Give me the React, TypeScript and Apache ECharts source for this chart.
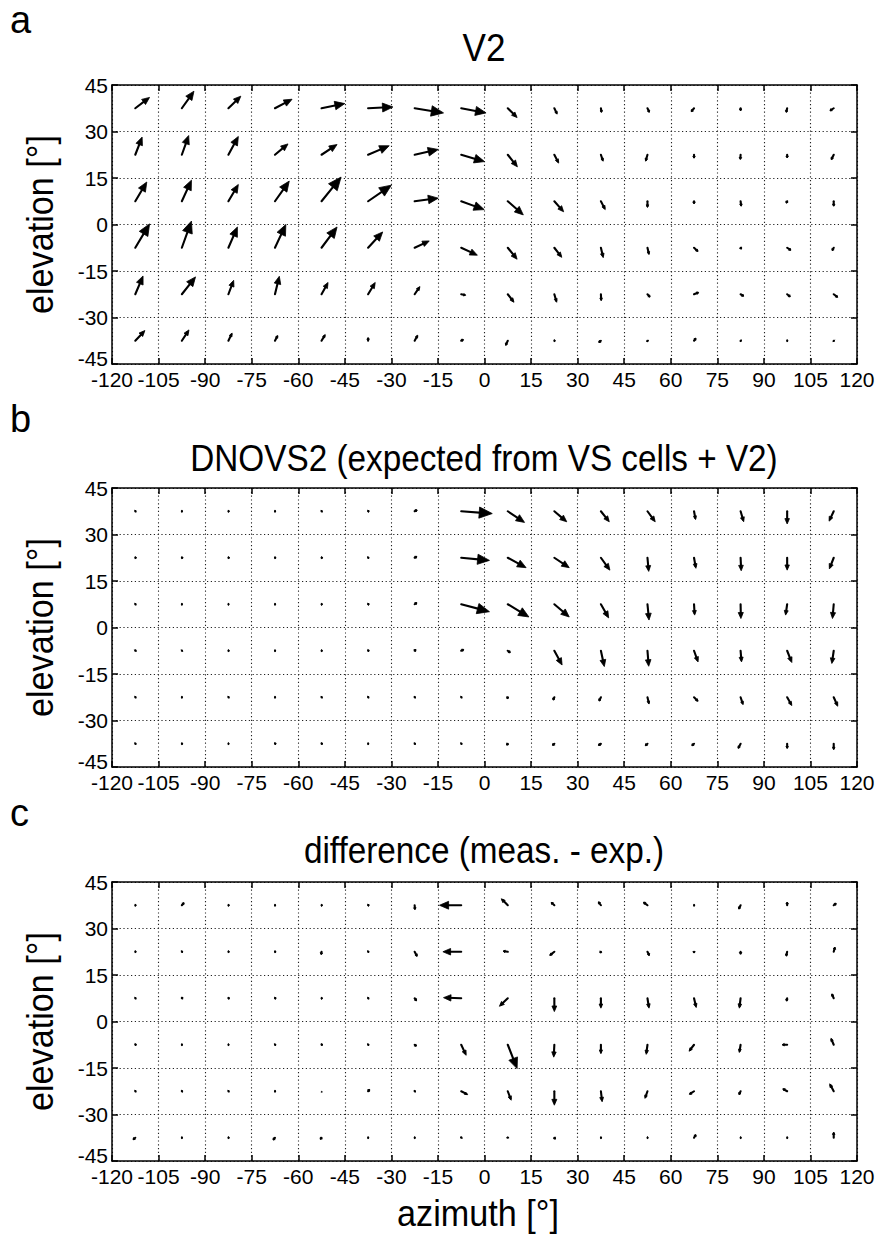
import React, { useEffect, useRef } from "react";
import * as echarts from "echarts";

const azimuths = [-112.5, -97.5, -82.5, -67.5, -52.5, -37.5, -22.5, -7.5, 7.5, 22.5, 37.5, 52.5, 67.5, 82.5, 97.5, 112.5];
const elevations = [37.5, 22.5, 7.5, -7.5, -22.5, -37.5];
const xTicks = [-120, 120, 15];
const yTicks = [-45, 45, 15];

// panel a: V2 (rows top -> bottom, columns left -> right)
const v2U = [
  [4.6, 3.9, 4.0, 5.5, 7.5, 8.0, 9.3, 8.0, 3.0, 0.9, 0.2, 0.6, -0.9, 0.0, -0.3, -1.2],
  [2.2, 2.2, 3.2, 4.2, 5.0, 6.8, 7.6, 7.5, 3.1, 1.4, 0.7, -0.6, 0.0, -0.1, 0.0, -0.8],
  [3.7, 3.1, 3.2, 4.6, 6.3, 7.5, 7.6, 7.4, 5.0, 3.0, 1.4, 0.0, 0.0, 0.2, -0.3, 0.0],
  [4.6, 3.1, 2.9, 3.5, 5.0, 4.7, 4.7, 5.2, 3.0, 2.4, 0.75, 0.5, 1.3, 0.3, 1.2, -0.5],
  [2.5, 4.4, 1.7, 1.4, 2.1, 2.3, 1.7, 1.4, 2.0, 0.75, 0.1, 0.8, 1.5, 1.0, 1.0, 1.3],
  [3.1, 2.3, 1.2, 0.9, 1.2, 0.0, 1.0, 0.7, -0.7, 0.2, -0.7, 0.1, 0.6, 0.2, 0.1, 0.1],
];
const v2V = [
  [3.5, 5.5, 3.9, 2.9, 1.5, 0.4, -1.5, -1.5, -3.0, -1.9, -1.3, -1.3, -1.1, -0.8, -1.3, -0.8],
  [5.7, 6.2, 5.9, 3.5, 3.3, 2.9, 1.7, -2.2, -3.9, -2.7, -2.1, -2.1, -1.1, -1.5, -1.0, -1.6],
  [6.2, 6.8, 5.4, 6.5, 7.8, 5.2, 1.0, -2.7, -4.4, -3.4, -2.7, -2.0, -0.8, -1.6, -0.6, -1.6],
  [7.7, 8.6, 6.7, 7.5, 6.7, 5.1, 2.2, -2.4, -3.7, -3.1, -3.2, -2.2, -1.2, -0.4, -0.8, -0.9],
  [5.9, 5.6, 4.5, 5.8, 3.8, 3.8, 2.5, -0.3, -2.6, -2.6, -2.1, -0.9, 0.6, -0.6, -0.8, -1.0],
  [3.3, 3.5, 2.5, 1.7, 2.0, 1.0, 1.8, 0.4, -1.5, 0.0, -0.5, -0.2, 0.8, -0.1, 0.0, -0.1],
];

// panel b: DNOVS2 expected
const dnoU = [
  [0.2, 0.1, 0.2, 0.1, 0.2, 0.3, 0.8, 10.0, 5.4, 4.0, 2.7, 2.5, 0.5, 1.0, 0.0, -1.5],
  [0.3, 0.3, 0.3, 0.2, 0.3, 0.2, 0.7, 9.1, 5.9, 4.8, 2.9, 0.4, 0.6, 0.2, 0.0, -1.4],
  [0.2, 0.1, 0.1, 0.1, 0.2, 0.3, 0.7, 9.1, 6.8, 4.8, 2.5, 0.5, 0.2, 0.1, -0.5, -0.4],
  [0.2, 0.1, 0.2, 0.1, 0.2, 0.3, 0.4, 0.8, 0.8, 2.5, 1.1, 0.4, 1.3, 0.3, 1.5, -0.6],
  [0.2, 0.1, 0.2, 0.1, 0.2, 0.2, 0.2, 0.2, -0.2, -0.4, -0.6, 0.5, 1.3, 0.8, 1.5, 1.3],
  [0.2, 0.2, 0.1, 0.3, 0.3, 0.1, 0.2, 0.2, -0.4, -0.6, -0.8, -0.7, -0.7, -0.8, 0.0, 0.0],
];
const dnoV = [
  [0.1, 0.0, 0.0, 0.0, 0.1, 0.1, 0.4, -0.75, -3.6, -3.4, -3.4, -3.4, -2.7, -3.4, -4.1, -3.2],
  [0.0, 0.0, 0.0, 0.0, 0.0, 0.1, 0.4, -0.85, -3.2, -3.2, -4.0, -4.4, -3.4, -4.2, -4.0, -3.6],
  [0.1, 0.0, 0.0, 0.0, 0.0, 0.1, 0.5, -2.4, -4.1, -4.1, -4.4, -5.1, -3.5, -4.6, -3.5, -4.6],
  [0.2, 0.1, 0.0, 0.0, 0.0, 0.1, 0.4, 0.4, -0.6, -4.6, -5.1, -5.0, -3.6, -3.6, -3.8, -4.1],
  [0.1, 0.0, 0.1, 0.0, 0.1, 0.1, 0.1, 0.1, -0.5, -0.9, -1.2, -2.2, -1.3, -2.4, -2.7, -2.9],
  [0.1, 0.0, 0.0, 0.1, 0.1, 0.0, 0.1, 0.1, -0.4, -0.5, -0.5, -0.6, -0.6, -1.5, -1.5, -1.9],
];

// panel c: difference (measured - expected)
const diffU = [
  [0.2, 0.7, 0.2, 0.1, 0.2, 0.3, 0.1, -7.0, -2.1, -1.0, -0.8, -1.3, 0.1, -0.6, 0.0, 0.8],
  [0.2, 0.2, 0.2, 0.2, -0.1, 0.2, 0.8, -5.9, -1.5, -1.5, -0.3, 0.6, 0.0, 0.0, -0.3, 0.4],
  [0.2, 0.3, 0.3, 0.3, 0.2, 0.2, 0.6, -5.7, -2.7, 0.0, 0.0, 0.5, 0.7, -0.4, -0.2, -0.6],
  [0.3, 0.1, 0.1, 0.2, 0.3, 0.2, 0.6, 1.6, 3.0, -0.2, 0.0, -0.4, -1.6, -0.4, -1.6, -0.9],
  [0.2, 0.2, 0.2, 0.1, 0.0, 0.5, 0.2, 2.1, 1.1, 0.0, 0.4, -0.8, -1.5, -0.5, -1.4, -1.3],
  [-0.7, 0.1, 0.2, -0.6, -0.4, 0.1, 0.1, 0.1, 0.0, 0.4, 0.1, 0.1, 0.6, 0.1, 0.1, 0.0],
];
const diffV = [
  [0.0, 0.8, 0.0, 0.0, 0.0, 0.1, -1.4, 0.0, 2.1, 0.9, 1.1, 1.0, 0.0, -1.2, 1.0, 0.6],
  [0.0, 0.1, 0.0, 0.0, -0.9, 0.1, -1.5, 0.0, 0.2, -1.2, -0.3, -1.2, -0.3, -0.8, -1.4, 1.5],
  [0.1, 0.2, 0.1, 0.1, 0.0, 0.1, -0.8, 0.2, -2.6, -4.3, -3.2, -3.2, -3.0, -3.2, -0.9, 1.4],
  [0.1, 0.0, 0.0, 0.1, 0.1, 0.1, -0.4, -3.4, -7.7, -4.0, -2.9, -3.1, -2.1, -2.5, 0.0, 2.1],
  [0.1, 0.1, 0.1, 0.0, 0.0, 0.6, 0.1, -1.1, -2.9, -4.5, -3.4, -2.3, -1.0, -1.1, 0.8, 2.4],
  [-0.6, 0.0, 0.0, -0.7, -0.5, 0.0, 0.0, 0.2, 0.2, -0.4, 0.0, 0.0, 1.0, 0.0, 0.0, 1.8],
];

const panelLetters = ["a", "b", "c"];
const panelTitles = ["V2", "DNOVS2 (expected from VS cells + V2)", "difference (meas. - exp.)"];
const xLabel = "azimuth [°]";
const yLabel = "elevation [°]";

const FONT = "'Liberation Sans', Arial, sans-serif";

function buildData(U: number[][], V: number[][]) {
  const out: number[][] = [];
  elevations.forEach((el, r) => {
    azimuths.forEach((az, c) => {
      out.push([az, el, U[r][c], V[r][c]]);
    });
  });
  return out;
}

function renderArrow(params: any, api: any) {
  const x = api.value(0);
  const y = api.value(1);
  const u = api.value(2);
  const v = api.value(3);
  const p0 = api.coord([x, y]);
  const p1 = api.coord([x + u, y + v]);
  const dx = p1[0] - p0[0];
  const dy = p1[1] - p0[1];
  const L = Math.sqrt(dx * dx + dy * dy);
  if (L < 0.3) {
    return { type: "circle", shape: { cx: p0[0], cy: p0[1], r: 0.9 }, style: { fill: "#222" } };
  }
  const ux = dx / L;
  const uy = dy / L;
  const h = Math.min(L, Math.max(0.42 * L, 1.7));
  const hw = Math.max(0.18 * L, 1.3);
  const bx = p1[0] - h * ux;
  const by = p1[1] - h * uy;
  const nx = -uy;
  const ny = ux;
  return {
    type: "group",
    children: [
      {
        type: "line",
        shape: { x1: p0[0], y1: p0[1], x2: bx + 0.5 * h * ux, y2: by + 0.5 * h * uy },
        style: { stroke: "#000", lineWidth: 2.1, lineCap: "round" },
      },
      {
        type: "polygon",
        shape: { points: [[p1[0], p1[1]], [bx + hw * nx, by + hw * ny], [bx - hw * nx, by - hw * ny]] },
        style: { fill: "#000", stroke: "#000", lineWidth: 0.8, lineJoin: "round" },
      },
    ],
  };
}

export default function App() {
  const ref = useRef<HTMLDivElement>(null);
  useEffect(() => {
    if (!ref.current) return;
    const chart = echarts.init(ref.current, undefined, { renderer: "svg" });
    const tops = [85, 488, 882];
    const H = 279;
    const grids = tops.map((t) => ({ left: 112, width: 745, top: t, height: H, show: false }));
    const xAxes: any[] = [];
    const yAxes: any[] = [];
    const lineStyle = { color: "#000", width: 1.5 };
    const tickStyle = { show: true, inside: true, length: 6, lineStyle: { color: "#000", width: 1.5 } };
    const split = { show: true, lineStyle: { color: "#222", width: 1.1, type: [1.2, 2.6] } };
    tops.forEach((_, i) => {
      xAxes.push({
        gridIndex: i, type: "value", position: "bottom", min: xTicks[0], max: xTicks[1], interval: xTicks[2],
        axisLine: { show: true, onZero: false, lineStyle }, axisTick: tickStyle, splitLine: split,
        axisLabel: { color: "#000", fontSize: 21, fontFamily: FONT, margin: 5, showMinLabel: true, showMaxLabel: true, hideOverlap: false },
      });
      xAxes.push({
        gridIndex: i, type: "value", position: "top", min: xTicks[0], max: xTicks[1], interval: xTicks[2],
        axisLine: { show: true, onZero: false, lineStyle }, axisTick: tickStyle, splitLine: { show: false },
        axisLabel: { show: false },
      });
      yAxes.push({
        gridIndex: i, type: "value", position: "left", min: yTicks[0], max: yTicks[1], interval: yTicks[2],
        axisLine: { show: true, onZero: false, lineStyle }, axisTick: tickStyle, splitLine: split,
        axisLabel: {
          color: "#000", fontSize: 21, fontFamily: FONT, margin: 4, showMinLabel: true, showMaxLabel: true,
          formatter: (val: number) => (val === yTicks[0] ? `{lo|${val}}` : `${val}`),
          rich: { lo: { color: "#000", fontSize: 21, fontFamily: FONT, padding: [0, 0, 12, 0] } },
        },
      });
      yAxes.push({
        gridIndex: i, type: "value", position: "right", min: yTicks[0], max: yTicks[1], interval: yTicks[2],
        axisLine: { show: true, onZero: false, lineStyle }, axisTick: tickStyle, splitLine: { show: false },
        axisLabel: { show: false },
      });
    });
    const datasets = [buildData(v2U, v2V), buildData(dnoU, dnoV), buildData(diffU, diffV)];
    const series = datasets.map((d, i) => ({
      type: "custom",
      xAxisIndex: 2 * i,
      yAxisIndex: 2 * i,
      data: d,
      encode: { x: 0, y: 1 },
      clip: false,
      renderItem: renderArrow,
      silent: true,
    }));
    const letterY = [20, 419, 813];
    const titleY = [47, 458, 850];
    const graphic: any[] = [];
    tops.forEach((t, i) => {
      graphic.push({
        type: "text", x: 10, y: letterY[i],
        style: { text: panelLetters[i], font: `38px ${FONT}`, fill: "#000", textAlign: "left", textVerticalAlign: "middle" },
      });
      graphic.push({
        type: "text", x: 484, y: titleY[i], scaleX: 0.9,
        style: { text: panelTitles[i], font: `${i === 0 ? 39 : 37}px ${FONT}`, fill: "#000", textAlign: "center", textVerticalAlign: "middle" },
      });
      graphic.push({
        type: "text", x: 40, y: t + H / 2, rotation: Math.PI / 2, scaleX: 0.95,
        style: { text: yLabel, font: `36px ${FONT}`, fill: "#000", textAlign: "center", textVerticalAlign: "middle" },
      });
    });
    graphic.push({
      type: "text", x: 478, y: 1213, scaleX: 0.95,
      style: { text: xLabel, font: `36px ${FONT}`, fill: "#000", textAlign: "center", textVerticalAlign: "middle" },
    });
    chart.setOption({
      animation: false,
      backgroundColor: "#fff",
      grid: grids,
      xAxis: xAxes,
      yAxis: yAxes,
      series,
      graphic,
    });
    return () => chart.dispose();
  }, []);
  return <div ref={ref} style={{ position: "absolute", left: 0, top: 0, width: 878, height: 1234 }} />;
}
